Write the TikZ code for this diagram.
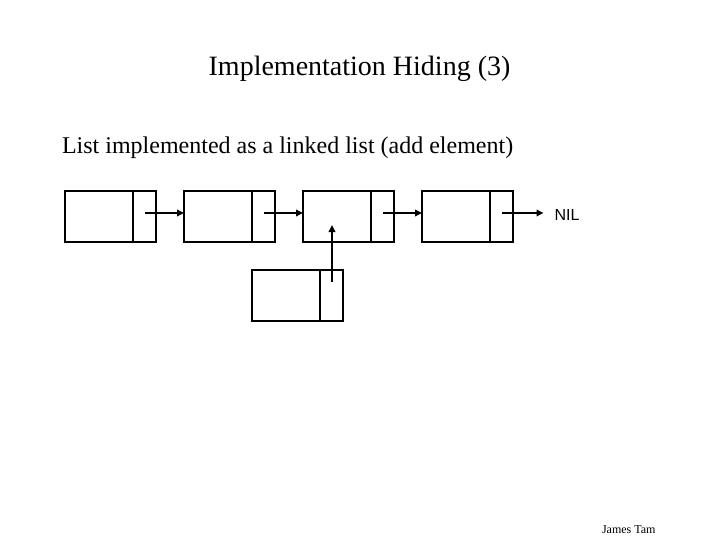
\documentclass[tikz,border=0pt]{standalone}
\usepackage{fontspec}
\setmainfont{Liberation Serif}
\newfontfamily\arialfont{Liberation Sans}
\usetikzlibrary{arrows.meta}
\begin{document}
\begin{tikzpicture}[x=1pt,y=-1pt,
  cell/.style={draw, line width=2pt, minimum width=91pt, minimum height=51pt, inner sep=0pt, outer sep=0pt, anchor=north west},
  divider/.style={line width=2pt},
  link/.style={line width=2pt, -{Triangle[length=7pt,width=6.5pt]}},
  txt/.style={inner sep=0pt, outer sep=0pt}]
\useasboundingbox (0,0) rectangle (720,540);
% titles
\node[txt, anchor=base, font=\fontsize{28}{33}\selectfont] (title) at (359.5,76) {Implementation Hiding (3)};
\node[txt, anchor=base west, font=\fontsize{24}{29}\selectfont] (sub) at (62,154) {List implemented as a linked list (add element)};
\node[txt, anchor=base west, font=\fontsize{12}{14}\selectfont] (author) at (602,533) {James Tam};
% list nodes
\node[cell] (b1) at (65,191) {};
\node[cell] (b2) at (184,191) {};
\node[cell] (b3) at (303,191) {};
\node[cell] (b4) at (422,191) {};
\node[cell] (b5) at (252,270) {};
\foreach \b in {b1,b2,b3,b4,b5}{
  \draw[divider] ([xshift=-23pt]\b.north east) -- ([xshift=-23pt]\b.south east);
  \coordinate (\b p) at ([xshift=-11pt,yshift=3.5pt]\b.east);
}
\node[txt, anchor=base west, font=\arialfont\fontsize{16}{19}\selectfont] (nil) at (554.5,220.7) {NIL};
\coordinate (nilend) at ([xshift=-11pt]b4p -| nil.west);
\coordinate (b5start) at (332,282);
\coordinate (b3in) at (332,225);
% links
\draw[link] (b1p) -- (b1p -| b2.west);
\draw[link] (b2p) -- (b2p -| b3.west);
\draw[link] (b3p) -- (b3p -| b4.west);
\draw[link] (b4p) -- (nilend);
\draw[link] (b5start) -- (b3in);
\end{tikzpicture}
\end{document}
